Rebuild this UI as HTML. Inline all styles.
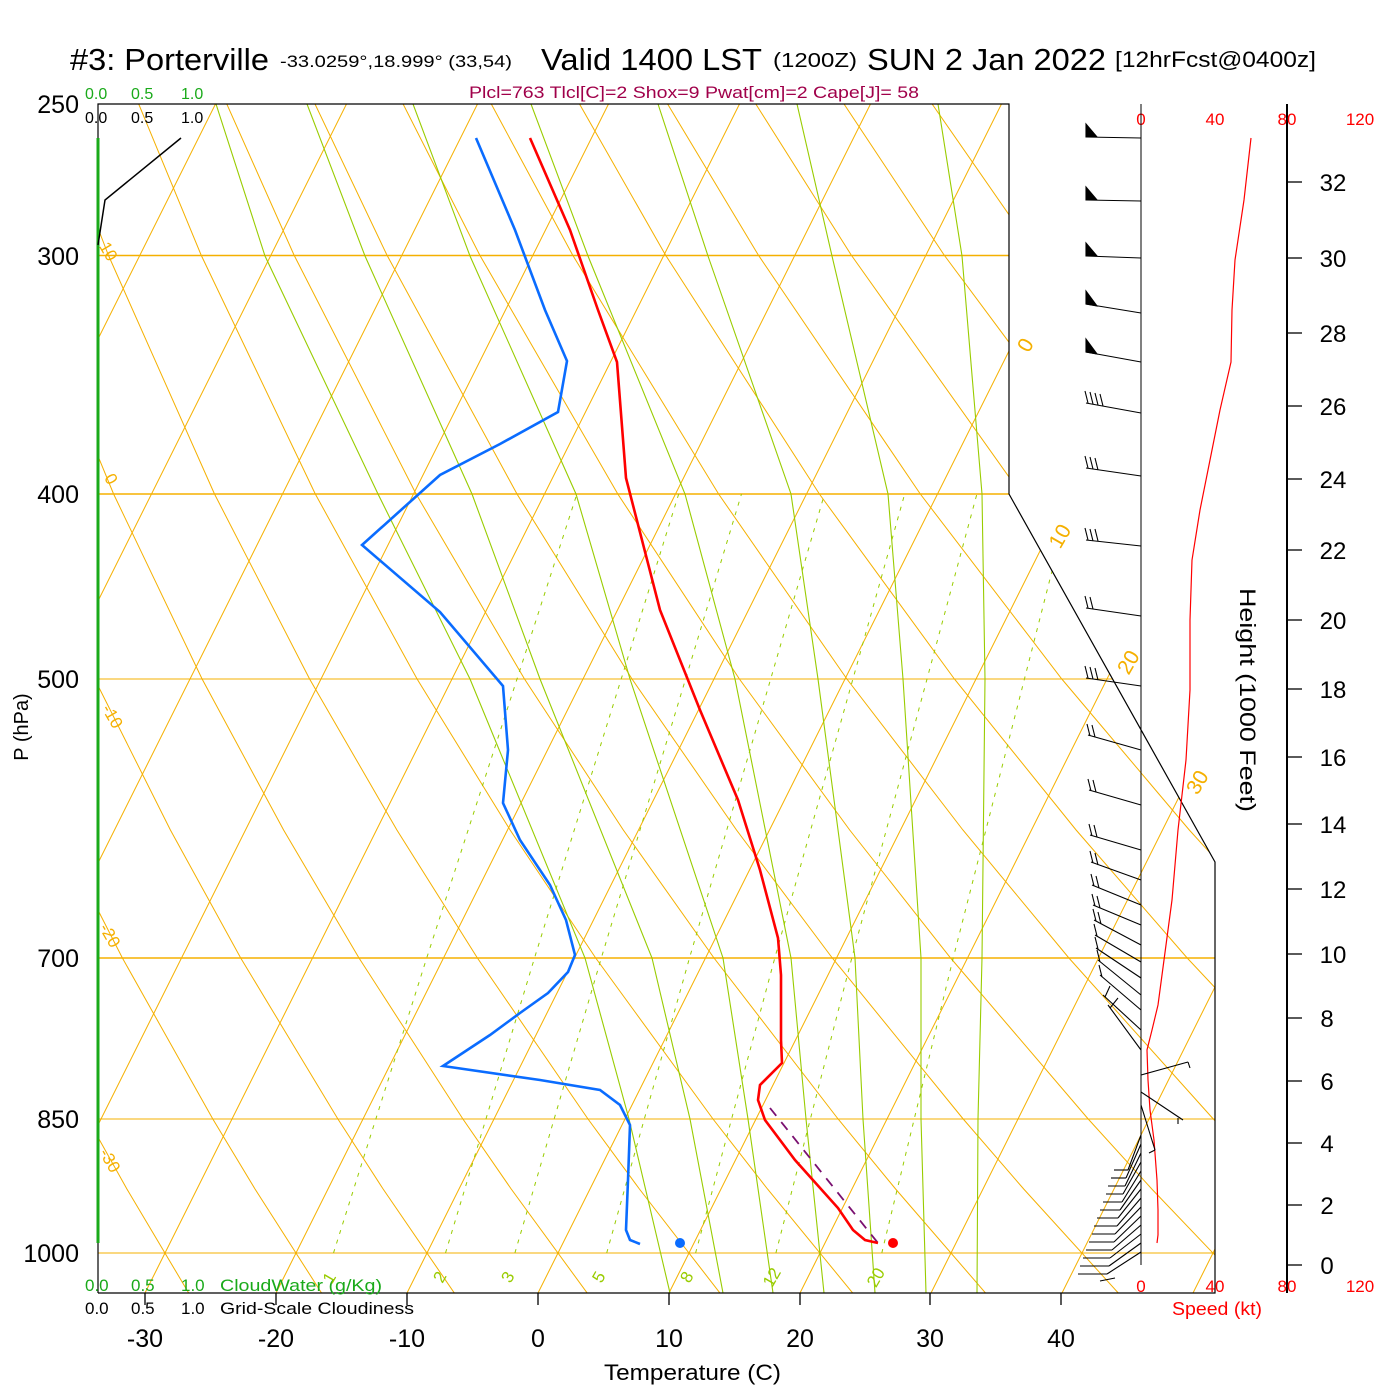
<!DOCTYPE html>
<html><head><meta charset="utf-8"><style>
body{margin:0;background:#fff;}
svg{display:block;font-family:"Liberation Sans",sans-serif;}
</style></head><body>
<svg width="1400" height="1400" viewBox="0 0 1400 1400" xmlns="http://www.w3.org/2000/svg">
<defs><clipPath id="cp"><polygon points="98,104 1009,104 1009,494 1215,862 1215,1293 98,1293"/></clipPath></defs>
<g clip-path="url(#cp)" fill="none">
<g stroke="#f5b000">
<line x1="98" y1="255.5" x2="1215" y2="255.5" stroke-width="1.5"/>
<line x1="98" y1="494" x2="1215" y2="494" stroke-width="1.5"/>
<line x1="98" y1="679" x2="1215" y2="679" stroke-width="1"/>
<line x1="98" y1="958" x2="1215" y2="958" stroke-width="1.5"/>
<line x1="98" y1="1119" x2="1215" y2="1119" stroke-width="1"/>
<line x1="98" y1="1253" x2="1215" y2="1253" stroke-width="1"/>
</g>
<g stroke="#f5b000" stroke-width="1">
<line x1="-510" y1="1293" x2="84.5" y2="104"/>
<line x1="-379" y1="1293" x2="215.5" y2="104"/>
<line x1="-248" y1="1293" x2="346.5" y2="104"/>
<line x1="-117" y1="1293" x2="477.5" y2="104"/>
<line x1="14" y1="1293" x2="608.5" y2="104"/>
<line x1="145" y1="1293" x2="739.5" y2="104"/>
<line x1="276" y1="1293" x2="870.5" y2="104"/>
<line x1="407" y1="1293" x2="1001.5" y2="104"/>
<line x1="538" y1="1293" x2="1132.5" y2="104"/>
<line x1="669" y1="1293" x2="1263.5" y2="104"/>
<line x1="800" y1="1293" x2="1394.5" y2="104"/>
<line x1="931" y1="1293" x2="1525.5" y2="104"/>
<line x1="1062" y1="1293" x2="1656.5" y2="104"/>
<line x1="1193" y1="1293" x2="1787.5" y2="104"/>
</g>
<g stroke="#f5b000" stroke-width="1">
<polyline points="56.5,1294 -1.2,1189 -37.3,1119 -114.2,958 -169.2,830 -227.7,679 -289.7,494 -356.1,255 -390.3,104"/>
<polyline points="189.3,1294 126.9,1189 87.8,1119 4.1,958 -56,830 -120.2,679 -188.9,494 -263.2,255 -302.1,104"/>
<polyline points="322.2,1294 255,1189 212.8,1119 122.4,958 57.2,830 -12.8,679 -88,494 -170.4,255 -214,104"/>
<polyline points="455,1294 383.1,1189 337.9,1119 240.7,958 170.4,830 94.7,679 12.8,494 -77.5,255 -125.8,104"/>
<polyline points="587.9,1294 511.2,1189 462.9,1119 359,958 283.6,830 202.1,679 113.6,494 15.4,255 -37.7,104"/>
<polyline points="720.7,1294 639.4,1189 588,1119 477.4,958 396.9,830 309.6,679 214.5,494 108.3,255 50.5,104"/>
<polyline points="853.5,1294 767.5,1189 713,1119 595.7,958 510.1,830 417.1,679 315.3,494 201.1,255 138.7,104"/>
<polyline points="986.4,1294 895.6,1189 838.1,1119 714,958 623.3,830 524.5,679 416.1,494 294,255 226.8,104"/>
<polyline points="1119.2,1294 1023.7,1189 963.2,1119 832.3,958 736.5,830 632,679 517,494 386.9,255 315,104"/>
<polyline points="1252.1,1294 1151.8,1189 1088.2,1119 950.6,958 849.7,830 739.4,679 617.8,494 479.7,255 403.1,104"/>
<polyline points="1384.9,1294 1279.9,1189 1213.3,1119 1068.9,958 962.9,830 846.9,679 718.6,494 572.6,255 491.3,104"/>
<polyline points="1517.7,1294 1408,1189 1338.4,1119 1187.2,958 1076.1,830 954.4,679 819.4,494 665.5,255 579.5,104"/>
<polyline points="1650,1294 1536,1189 1463.4,1119 1305.5,958 1189.3,830 1061.8,679 920.3,494 758.3,255 667.6,104"/>
<polyline points="1420,958 1302.5,830 1169.3,679 1021.1,494 851.2,255 755.8,104"/>
<polyline points="1415.7,830 1276.7,679 1121.9,494 944.1,255 844,104"/>
<polyline points="1384,679 1222.8,494 1037,255 932.1,104"/>
</g>
<g stroke="#99cc00" stroke-width="1.1">
<polyline points="670,1293 629,1119 585,958 470,679 378,494 265,256 216,104"/>
<polyline points="723,1293 690,1119 652,958 540,679 472,494 365,256 307,104"/>
<polyline points="773,1293 748,1119 723,958 630,679 576,494 470,256 413,104"/>
<polyline points="824,1293 806,1119 791,958 735,679 685,494 588,256 531,104"/>
<polyline points="875,1293 863,1119 855,958 818,679 791,494 708,256 658,104"/>
<polyline points="926,1293 921,1119 921,958 903,679 888,494 832,256 797,104"/>
<polyline points="977,1293 978,1119 982,958 985,679 982,494 962,256 938,104"/>
</g>
<g stroke="#99cc00" stroke-width="1" stroke-dasharray="4,6">
<polyline points="333.5,1253 426.7,958 576.9,494"/>
<polyline points="445.5,1253 534.5,958 678.7,494"/>
<polyline points="514.9,1253 601.3,958 741.5,494"/>
<polyline points="606.7,1253 689.5,958 824.5,494"/>
<polyline points="695.6,1253 774.8,958 904.7,494"/>
<polyline points="775.9,1253 851.8,958 976.9,494"/>
<polyline points="881.8,1253 953.2,958 1071.7,494"/>
</g>
</g>
<polyline points="98,1293 98,104 1009,104 1009,494 1215,862 1215,1293 98,1293" fill="none" stroke="#000" stroke-width="1.2"/>
<line x1="98" y1="138" x2="98" y2="1243" stroke="#1aaa1a" stroke-width="3"/>
<polyline fill="none" stroke="#000" stroke-width="1.5" points="98,245 105,200 181,138"/>
<line x1="770" y1="1108" x2="878" y2="1243" stroke="#7a1070" stroke-width="1.8" stroke-dasharray="10,8"/>
<polyline fill="none" stroke="#0a6cff" stroke-width="2.6" points="476,138 515,230 545,310 567,361 558,412 500,444 440,475 362,545 440,612 503,686 508,750 503,803 520,840 550,885 566,920 575,955 568,972 548,993 520,1013 490,1035 443,1066 540,1080 600,1090 620,1105 630,1125 628,1180 626,1230 630,1240 640,1244"/>
<polyline fill="none" stroke="#f00" stroke-width="2.6" points="530,138 570,230 598,310 617,362 626,478 660,610 700,710 738,800 760,870 778,938 781,975 781,1040 782,1063 760,1085 758,1100 765,1120 795,1160 838,1208 853,1230 865,1240 878,1243"/>
<circle cx="680" cy="1243" r="5" fill="#0a6cff"/>
<circle cx="893" cy="1243" r="5" fill="#f00"/>
<g stroke="#000" stroke-width="1.3">
<line x1="145" y1="1293" x2="145" y2="1305"/><line x1="276" y1="1293" x2="276" y2="1305"/><line x1="407" y1="1293" x2="407" y2="1305"/><line x1="538" y1="1293" x2="538" y2="1305"/><line x1="669" y1="1293" x2="669" y2="1305"/><line x1="800" y1="1293" x2="800" y2="1305"/><line x1="930" y1="1293" x2="930" y2="1305"/><line x1="1061" y1="1293" x2="1061" y2="1305"/>
</g>
<line x1="1287" y1="104" x2="1287" y2="1293" stroke="#000" stroke-width="2"/>
<g stroke="#000" stroke-width="1.3">
<line x1="1287" y1="182" x2="1302" y2="182"/><line x1="1287" y1="258" x2="1302" y2="258"/><line x1="1287" y1="333" x2="1302" y2="333"/><line x1="1287" y1="406" x2="1302" y2="406"/><line x1="1287" y1="479" x2="1302" y2="479"/><line x1="1287" y1="550" x2="1302" y2="550"/><line x1="1287" y1="620" x2="1302" y2="620"/><line x1="1287" y1="689" x2="1302" y2="689"/><line x1="1287" y1="757" x2="1302" y2="757"/><line x1="1287" y1="824" x2="1302" y2="824"/><line x1="1287" y1="889" x2="1302" y2="889"/><line x1="1287" y1="954" x2="1302" y2="954"/><line x1="1287" y1="1018" x2="1302" y2="1018"/><line x1="1287" y1="1081" x2="1302" y2="1081"/><line x1="1287" y1="1143" x2="1302" y2="1143"/><line x1="1287" y1="1205" x2="1302" y2="1205"/><line x1="1287" y1="1265" x2="1302" y2="1265"/>
</g>
<g font-size="24" fill="#000" text-anchor="middle">
<text x="1333" y="191">32</text><text x="1333" y="267">30</text><text x="1333" y="342">28</text><text x="1333" y="415">26</text><text x="1333" y="488">24</text><text x="1333" y="559">22</text><text x="1333" y="629">20</text><text x="1333" y="698">18</text><text x="1333" y="766">16</text><text x="1333" y="833">14</text><text x="1333" y="898">12</text><text x="1333" y="963">10</text><text x="1327" y="1027">8</text><text x="1327" y="1090">6</text><text x="1327" y="1152">4</text><text x="1327" y="1214">2</text><text x="1327" y="1274">0</text>
</g>
<text x="1240" y="700" font-size="22" text-anchor="middle" textLength="224" lengthAdjust="spacingAndGlyphs" transform="rotate(90 1240 700)">Height (1000 Feet)</text>
<g font-size="17" fill="#f00" text-anchor="middle">
<text x="1141" y="125">0</text><text x="1215" y="125">40</text><text x="1287" y="125">80</text><text x="1360" y="125">120</text>
<text x="1141" y="1292">0</text><text x="1215" y="1292">40</text><text x="1287" y="1292">80</text><text x="1360" y="1292">120</text>
<text x="1217" y="1315" font-size="18" textLength="90" lengthAdjust="spacingAndGlyphs">Speed (kt)</text>
</g>
<line x1="1141" y1="104" x2="1141" y2="1265" stroke="#000" stroke-width="1"/>
<polyline fill="none" stroke="#f00" stroke-width="1.2" points="1251,138 1244,200 1235,260 1232,310 1231,362 1220,410 1210,460 1200,510 1192,560 1190,620 1190,690 1186,760 1178,830 1172,900 1164,960 1158,1005 1152,1030 1147,1050 1148,1080 1150,1110 1154,1140 1157,1180 1158,1210 1158,1235 1157,1243"/>
<g stroke="#000" stroke-width="1.1" fill="#000">
<line x1="1141" y1="138" x2="1086" y2="137"/><polygon points="1086,124 1086,137 1097,137"/>
<line x1="1141" y1="201" x2="1086" y2="200"/><polygon points="1086,187 1086,200 1097,200"/>
<line x1="1141" y1="258" x2="1086" y2="256"/><polygon points="1086,243 1086,256 1097,256"/>
<line x1="1141" y1="313" x2="1086" y2="304"/><polygon points="1086,291 1086,304 1097,306"/>
<line x1="1141" y1="362" x2="1086" y2="352"/><polygon points="1086,339 1086,352 1097,354"/>
<line x1="1141" y1="413" x2="1086" y2="403"/><line x1="1088" y1="403" x2="1085" y2="391"/><line x1="1093" y1="404" x2="1090" y2="392"/><line x1="1098" y1="405" x2="1095" y2="393"/><line x1="1103" y1="406" x2="1100" y2="394"/>
<line x1="1141" y1="476" x2="1086" y2="468"/><line x1="1088" y1="468" x2="1085" y2="456"/><line x1="1093" y1="469" x2="1090" y2="457"/><line x1="1098" y1="470" x2="1095" y2="458"/>
<line x1="1141" y1="546" x2="1086" y2="540"/><line x1="1088" y1="540" x2="1085" y2="528"/><line x1="1093" y1="541" x2="1090" y2="529"/><line x1="1098" y1="541" x2="1095" y2="529"/>
<line x1="1141" y1="616" x2="1086" y2="608"/><line x1="1088" y1="608" x2="1085" y2="596"/><line x1="1093" y1="609" x2="1090" y2="597"/>
<line x1="1141" y1="686" x2="1086" y2="678"/><line x1="1088" y1="678" x2="1085" y2="666"/><line x1="1093" y1="679" x2="1090" y2="667"/><line x1="1098" y1="680" x2="1095" y2="668"/>
<line x1="1141" y1="750" x2="1088" y2="735"/><line x1="1090" y1="736" x2="1087" y2="724"/><line x1="1095" y1="737" x2="1092" y2="725"/>
<line x1="1141" y1="805" x2="1089" y2="790"/><line x1="1091" y1="791" x2="1088" y2="779"/><line x1="1096" y1="792" x2="1093" y2="780"/>
<line x1="1141" y1="850" x2="1090" y2="835"/><line x1="1092" y1="836" x2="1089" y2="824"/><line x1="1097" y1="837" x2="1094" y2="825"/>
<line x1="1141" y1="880" x2="1091" y2="862"/><line x1="1093" y1="863" x2="1090" y2="851"/><line x1="1098" y1="865" x2="1095" y2="853"/>
<line x1="1141" y1="905" x2="1092" y2="885"/><line x1="1094" y1="886" x2="1091" y2="874"/><line x1="1099" y1="888" x2="1096" y2="876"/>
<line x1="1141" y1="925" x2="1093" y2="905"/><line x1="1095" y1="906" x2="1092" y2="894"/><line x1="1100" y1="908" x2="1097" y2="896"/>
<line x1="1141" y1="945" x2="1094" y2="920"/><line x1="1096" y1="921" x2="1093" y2="909"/><line x1="1101" y1="924" x2="1098" y2="912"/>
<line x1="1141" y1="962" x2="1095" y2="935"/><line x1="1097" y1="936" x2="1094" y2="924"/>
<line x1="1141" y1="978" x2="1096" y2="948"/><line x1="1098" y1="949" x2="1095" y2="937"/>
<line x1="1141" y1="995" x2="1098" y2="960"/><line x1="1100" y1="962" x2="1097" y2="950"/>
<line x1="1141" y1="1010" x2="1100" y2="975"/><line x1="1102" y1="977" x2="1099" y2="965"/>
<line x1="1141" y1="1030" x2="1103" y2="995"/><line x1="1105" y1="997" x2="1110" y2="986"/>
<line x1="1141" y1="1050" x2="1108" y2="1005"/><line x1="1110" y1="1008" x2="1118" y2="998"/>
<line x1="1141" y1="1075" x2="1188" y2="1062"/><line x1="1188" y1="1062" x2="1190" y2="1068"/>
<line x1="1141" y1="1092" x2="1183" y2="1120"/><line x1="1178" y1="1118" x2="1178" y2="1124"/>
<line x1="1141" y1="1105" x2="1155" y2="1150"/><line x1="1155" y1="1150" x2="1149" y2="1153"/>
<line x1="1141" y1="1135" x2="1128" y2="1170"/><line x1="1128" y1="1170" x2="1114" y2="1170"/>
<line x1="1141" y1="1144" x2="1126" y2="1178"/><line x1="1126" y1="1178" x2="1111" y2="1178"/>
<line x1="1141" y1="1153" x2="1125" y2="1186"/><line x1="1125" y1="1186" x2="1108" y2="1186"/>
<line x1="1141" y1="1162" x2="1123" y2="1194"/><line x1="1123" y1="1194" x2="1106" y2="1194"/>
<line x1="1141" y1="1171" x2="1122" y2="1202"/><line x1="1122" y1="1202" x2="1103" y2="1202"/>
<line x1="1141" y1="1180" x2="1120" y2="1210"/><line x1="1120" y1="1210" x2="1100" y2="1210"/>
<line x1="1141" y1="1189" x2="1118" y2="1218"/><line x1="1118" y1="1218" x2="1097" y2="1218"/>
<line x1="1141" y1="1198" x2="1117" y2="1226"/><line x1="1117" y1="1226" x2="1094" y2="1226"/>
<line x1="1141" y1="1207" x2="1115" y2="1234"/><line x1="1115" y1="1234" x2="1092" y2="1234"/>
<line x1="1141" y1="1216" x2="1114" y2="1242"/><line x1="1114" y1="1242" x2="1089" y2="1242"/>
<line x1="1141" y1="1225" x2="1112" y2="1250"/><line x1="1112" y1="1250" x2="1086" y2="1250"/>
<line x1="1141" y1="1234" x2="1110" y2="1258"/><line x1="1110" y1="1258" x2="1083" y2="1258"/>
<line x1="1141" y1="1243" x2="1109" y2="1266"/><line x1="1109" y1="1266" x2="1080" y2="1266"/>
<line x1="1141" y1="1252" x2="1107" y2="1274"/><line x1="1107" y1="1274" x2="1078" y2="1274"/>
<line x1="1115" y1="1278" x2="1100" y2="1281"/>
</g>
<text x="70" y="70" font-size="31" textLength="199" lengthAdjust="spacingAndGlyphs">#3: Porterville</text>
<text x="280" y="67" font-size="17" textLength="232" lengthAdjust="spacingAndGlyphs">-33.0259°,18.999° (33,54)</text>
<text x="541" y="70" font-size="31" textLength="221" lengthAdjust="spacingAndGlyphs">Valid 1400 LST</text>
<text x="773" y="67" font-size="20" textLength="84" lengthAdjust="spacingAndGlyphs">(1200Z)</text>
<text x="867" y="70" font-size="31" textLength="239" lengthAdjust="spacingAndGlyphs">SUN 2 Jan 2022</text>
<text x="1115" y="67" font-size="22" textLength="201" lengthAdjust="spacingAndGlyphs">[12hrFcst@0400z]</text>
<text x="469" y="98" font-size="17" fill="#a0004a" textLength="450" lengthAdjust="spacingAndGlyphs">Plcl=763 Tlcl[C]=2 Shox=9 Pwat[cm]=2 Cape[J]= 58</text>
<g font-size="16" fill="#1aaa1a"><text x="85" y="99">0.0</text><text x="131" y="99">0.5</text><text x="181" y="99">1.0</text></g>
<g font-size="16" fill="#000"><text x="85" y="123">0.0</text><text x="131" y="123">0.5</text><text x="181" y="123">1.0</text></g>
<g font-size="17" fill="#1aaa1a"><text x="85" y="1291">0.0</text><text x="131" y="1291">0.5</text><text x="181" y="1291">1.0</text><text x="220" y="1291" textLength="162" lengthAdjust="spacingAndGlyphs">CloudWater (g/Kg)</text></g>
<g font-size="17" fill="#000"><text x="85" y="1314">0.0</text><text x="131" y="1314">0.5</text><text x="181" y="1314">1.0</text><text x="220" y="1314" textLength="194" lengthAdjust="spacingAndGlyphs">Grid-Scale Cloudiness</text></g>
<g font-size="25" fill="#000" text-anchor="end">
<text x="79" y="113">250</text><text x="79" y="265">300</text><text x="79" y="503">400</text><text x="79" y="688">500</text><text x="79" y="967">700</text><text x="79" y="1128">850</text><text x="79" y="1262">1000</text>
</g>
<text x="28" y="727" font-size="20" text-anchor="middle" transform="rotate(-90 28 727)">P (hPa)</text>
<g font-size="25" fill="#000" text-anchor="middle">
<text x="145" y="1347">-30</text><text x="276" y="1347">-20</text><text x="407" y="1347">-10</text><text x="538" y="1347">0</text><text x="669" y="1347">10</text><text x="800" y="1347">20</text><text x="930" y="1347">30</text><text x="1061" y="1347">40</text>
</g>
<text x="604" y="1380" font-size="22" textLength="177" lengthAdjust="spacingAndGlyphs">Temperature (C)</text>
<g font-size="21" fill="#f5b000">
<text x="1015" y="350" transform="rotate(-60 1025 340)">0</text>
<text x="1043" y="540" transform="rotate(-60 1060 530)">10</text>
<text x="1112" y="667" transform="rotate(-60 1128 657)">20</text>
<text x="1181" y="787" transform="rotate(-60 1197 777)">30</text>
</g>
<g font-size="17" fill="#f5b000">
<text x="100" y="256" transform="rotate(60 108 250)">10</text>
<text x="106" y="486" transform="rotate(60 112 480)">0</text>
<text x="101" y="721" transform="rotate(60 112 715)">-10</text>
<text x="98" y="941" transform="rotate(60 110 935)">-20</text>
<text x="98" y="1166" transform="rotate(60 110 1160)">-30</text>
</g>
<g font-size="17" fill="#99cc00">
<text x="325" y="1283" transform="rotate(-60 330 1278)">1</text>
<text x="436" y="1283" transform="rotate(-60 440 1278)">2</text>
<text x="504" y="1283" transform="rotate(-60 508 1278)">3</text>
<text x="595" y="1283" transform="rotate(-60 599 1278)">5</text>
<text x="683" y="1283" transform="rotate(-60 687 1278)">8</text>
<text x="762" y="1285" transform="rotate(-60 770 1278)">12</text>
<text x="866" y="1285" transform="rotate(-60 874 1278)">20</text>
</g>
</svg>
</body></html>
